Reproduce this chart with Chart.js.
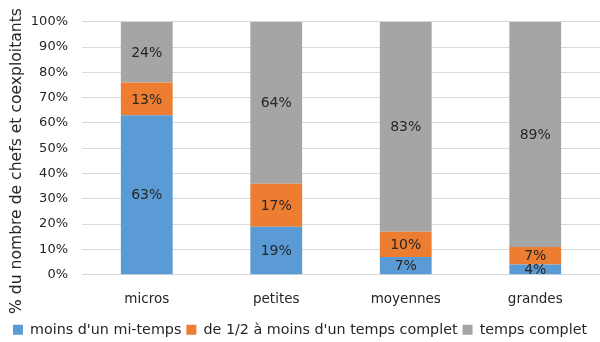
<!DOCTYPE html>
<html>
<head>
<meta charset="utf-8">
<script src="https://cdn.jsdelivr.net/npm/chart.js@4/dist/chart.umd.min.js"></script>
<style>
  html, body { margin: 0; padding: 0; background: #fff; }
  #wrap { width: 600px; height: 342px; }
</style>
</head>
<body>
<div id="wrap"><canvas id="chart" width="600" height="342"></canvas></div>
<script>
// catégories et parts (%)
const categories = ['micros', 'petites', 'moyennes', 'grandes'];
const moinsMiTemps = [63, 19, 7, 4];
const demiATempsComplet = [13, 17, 10, 7];
const tempsComplet = [24, 64, 83, 89];
const yTicks = [0, 10, 20, 30, 40, 50, 60, 70, 80, 90, 100];
const yTitle = '% du nombre de chefs et coexploitants';

const FONT = '"DejaVu Sans", "Noto Sans", sans-serif';
const TEXT = '#262626';

// étiquettes au centre de chaque segment + titre de l'axe vertical
const segmentLabels = {
  id: 'segmentLabels',
  afterDatasetsDraw(chart) {
    const ctx = chart.ctx;
    ctx.save();
    ctx.font = '14px ' + FONT;
    ctx.fillStyle = TEXT;
    ctx.textAlign = 'center';
    ctx.textBaseline = 'middle';
    chart.data.datasets.forEach((ds, i) => {
      const meta = chart.getDatasetMeta(i);
      meta.data.forEach((bar, j) => {
        const p = bar.getProps(['x', 'y', 'base'], true);
        ctx.fillText(ds.data[j] + '%', p.x, (p.y + p.base) / 2 + 1);
      });
    });
    // titre Y centré sur la zone tracé + étiquettes (comme Excel)
    ctx.translate(17, 161);
    ctx.rotate(-Math.PI / 2);
    ctx.font = '15.6px ' + FONT;
    ctx.fillText(yTitle, 0, 0);
    ctx.restore();
  }
};

new Chart(document.getElementById('chart'), {
  type: 'bar',
  data: {
    labels: categories,
    datasets: [
      { label: "moins d'un mi-temps", data: moinsMiTemps, backgroundColor: '#5B9BD5' },
      { label: "de 1/2 à moins d'un temps complet", data: demiATempsComplet, backgroundColor: '#ED7D31' },
      { label: 'temps complet', data: tempsComplet, backgroundColor: '#A5A5A5' }
    ]
  },
  options: {
    responsive: false,
    animation: false,
    layout: { padding: { top: 13, right: 0, left: 0, bottom: -5 } },
    datasets: { bar: { categoryPercentage: 1, barPercentage: 0.4, borderWidth: 0 } },
    plugins: {
      legend: {
        position: 'bottom',
        labels: {
          font: { family: FONT, size: 14.3 },
          color: TEXT,
          boxWidth: 10,
          boxHeight: 10,
          padding: 5
        }
      },
      tooltip: { enabled: false }
    },
    scales: {
      x: {
        stacked: true,
        grid: { display: false },
        border: { color: '#d9d9d9' },
        ticks: { font: { family: FONT, size: 13.5 }, color: TEXT, padding: 9 },
        afterFit(scale) { scale.height = 43; }
      },
      y: {
        stacked: true,
        min: 0,
        max: 100,
        afterBuildTicks(scale) { scale.ticks = yTicks.map(v => ({ value: v })); },
        grid: { color: '#d9d9d9', drawTicks: false },
        border: { display: false },
        ticks: {
          font: { family: FONT, size: 13 },
          color: TEXT,
          padding: 14,
          callback: v => v + '%'
        },
        afterFit(scale) { scale.width = 82; }
      }
    }
  },
  plugins: [segmentLabels]
});
</script>
</body>
</html>
